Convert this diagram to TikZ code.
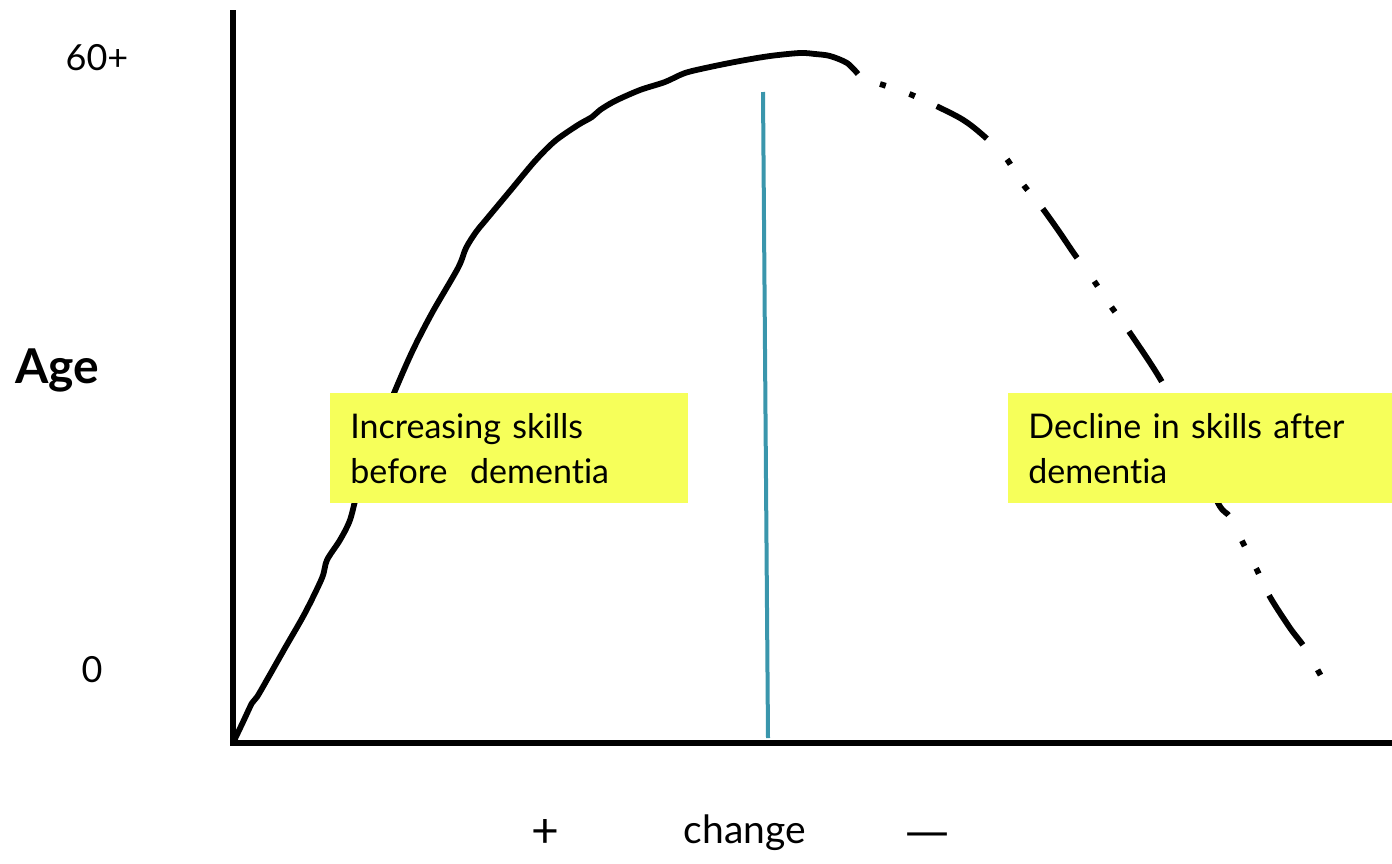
\documentclass[tikz,border=0pt]{standalone}
\usepackage{fontspec}
\setmainfont{Lato}[Ligatures=NoCommon]
\newfontfamily\dashfont{DejaVu Sans}
\usepackage{tikz}
\definecolor{boxyellow}{RGB}{246,255,90}
\definecolor{splitteal}{RGB}{58,150,172}

\begin{document}
\begin{tikzpicture}[x=0.5pt,y=-0.5pt,
    curve/.style={line width=2.9pt, line join=round},
    skillbox/.style={fill=boxyellow, anchor=north west, minimum width=179pt, minimum height=55pt,
        text width=159pt, inner xsep=10pt, align=left, font=\fontsize{17}{22.5}\selectfont},
    axislabel/.style={font=\fontsize{18}{20}\selectfont}]
    \useasboundingbox (0,0) rectangle (1392,863);

    % Axes
    \draw[line width=2.6pt] (233,10) -- (233,743) -- (1392,743);

    % Rise in skills
    \draw[curve] plot[smooth, tension=0.5] coordinates {
        (233,743) (243,722) (252,703) (257,697) (268,678) (285,648) (305,613) (322,578)
        (327,560) (340,540) (350,520) (358,490) (372,450) (392,398) (412,352) (432,313)
        (458,268) (466,248) (476,232) (485,221) (510,191) (535,161) (555,141) (578,125)
        (592,117) (600,110) (615,101) (640,90) (665,82) (685,73) (710,67) (740,61)
        (770,56) (800,53) (815,54) (830,56) (847,63) (858,74)};

    % Decline after dementia
    \draw[curve, dash pattern=on 3pt off 12.5pt on 3pt off 12pt on 30pt off 14.5pt]
        plot[smooth, tension=0.5] coordinates {
        (880,84) (912,95) (960,118) (985,137) (1006,158) (1022,183) (1040,205) (1058,230)
        (1075,255) (1092,278) (1110,305) (1128,330) (1162,382) (1190,440) (1218,503)
        (1230,517) (1243,543) (1257,570) (1270,597) (1290,628) (1305,648) (1321,676)};

    % Onset of dementia
    \draw[splitteal, line width=2pt] (763,92) -- (768,738);

    % Boxes
    \node[skillbox] (before) at (330,393) {Increasing skills\\before~~dementia};
    \node[skillbox, minimum width=192pt, text width=172pt] (after) at (1008,393) {Decline in skills after\\dementia};

    % Axis labels
    \node[axislabel] (top) at (97,58) {60+};
    \node[axislabel] (zero) at (92,670) {0};
    \node[font=\fontsize{24}{26}\selectfont\bfseries] (age) at (57,370) {Age};
    \node[font=\fontsize{24}{26}\selectfont] (plus) at (545,833) {+};
    \node[font=\fontsize{19.5}{21}\selectfont] (change) at (745,833) {change};
    \node[font=\fontsize{22}{24}\dashfont] (minus) at (927,840) {—};
\end{tikzpicture}
\end{document}
